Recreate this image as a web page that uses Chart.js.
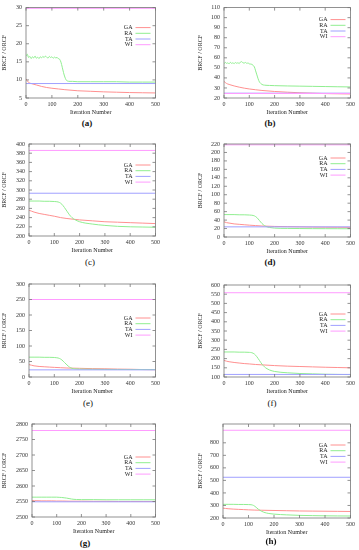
<!DOCTYPE html>
<html>
<head>
<meta charset="utf-8">
<script src="https://cdn.jsdelivr.net/npm/chart.js@4.4.0/dist/chart.umd.min.js"></script>
<style>
html, body { margin: 0; padding: 0; background: #fff; }
#fig { position: relative; width: 359px; height: 550px; overflow: hidden; }
#fig canvas { position: absolute; }
.cap { position: absolute; font-family: "Liberation Serif", "DejaVu Serif", serif; font-size: 9px; line-height: 9px; transform: translate(-50%, -50%); color: #111; }
</style>
</head>
<body>
<div id="fig"></div>
<script>
// iteration grids (x values)
var X_SMOOTH = [0, 10, 20, 40, 60, 80, 100, 125, 150, 200, 250, 300, 350, 400, 450, 500];
var X_DROP = [0, 20, 40, 60, 80, 100, 110, 120, 130, 140, 150, 160, 170, 180, 200, 250, 300, 350, 400, 450, 500];
var X_NOISY = [0, 5, 10, 15, 20, 25, 30, 35, 40, 45, 50, 55, 60, 65, 70, 75, 80, 85, 90, 95, 100,
               105, 110, 115, 120, 125, 130, 135, 140, 145, 150, 155, 160, 170, 180, 200, 250, 300, 350, 400, 450, 500];
var X_FLAT = [0, 500];

var seriesNames = ['GA', 'RA', 'TA', 'WI'];

// (a)
var gaA = [10.3, 9.3, 9.0, 8.6, 8.2, 7.9, 7.7, 7.5, 7.3, 7.0, 6.85, 6.7, 6.6, 6.5, 6.45, 6.4];
var raA = [16.6, 17.1, 16.2, 16.5, 15.9, 16.4, 16.1, 16.6, 16.0, 16.3, 15.9, 16.4, 16.1, 16.5, 16.2, 16.6, 16.3, 16.0, 16.5, 16.2, 16.4,
           16.0, 16.3, 16.1, 16.2, 15.9, 15.7, 14.9, 13.5, 12.0, 10.8, 10.0, 9.7, 9.6, 9.6, 9.5, 9.5, 9.5, 9.5, 9.4, 9.4, 9.4];
var taA = [9.0, 9.0];
var wiA = [29.8, 29.8];

// (b)
var gaB = [36.5, 34.5, 33.5, 32.0, 30.8, 29.8, 29.0, 28.2, 27.5, 26.5, 25.8, 25.2, 24.8, 24.4, 24.2, 24.0];
var raB = [54.0, 55.5, 54.5, 55.0, 54.0, 55.5, 54.5, 55.0, 54.2, 55.3, 54.6, 55.1, 54.3, 55.8, 56.2, 55.0, 54.8, 55.4, 54.5, 54.9, 54.0,
           53.8, 53.5, 52.5, 51.0, 47.0, 43.0, 39.0, 36.0, 34.5, 33.5, 33.0, 32.8, 32.6, 32.5, 32.3, 32.0, 31.8, 31.6, 31.4, 31.2, 31.0];
var taB = [24.8, 24.8];
var wiB = [24.5, 24.5];

// (c)
var gaC = [256, 254, 252, 249, 247, 245, 243, 240, 238, 235, 233, 231, 230, 229, 228, 227];
var raC = [276, 276, 276, 275.5, 275.5, 275, 274.5, 273, 269, 262, 254, 246, 240, 236, 231, 226, 223, 221, 220, 219.5, 219];
var taC = [293, 293];
var wiC = [386, 386];

// (d)
var gaD = [36, 34, 33, 31, 30, 29, 28, 27, 26, 25, 24.5, 24, 23.5, 23.2, 23, 22.8];
var raD = [53, 53, 53, 52.5, 52.5, 52, 51.5, 50, 46, 39, 32, 27, 24, 22.5, 21, 20.3, 20, 19.8, 19.7, 19.6, 19.5];
var taD = [24, 24];
var wiD = [218, 218];

// (e)
var gaE = [40, 38, 36, 34, 33, 32, 31, 30, 29, 28, 27, 26.5, 25.5, 25, 24, 23.5];
var raE = [64, 64, 64, 63.5, 63.5, 63, 62, 60, 55, 47, 39, 32, 28, 26.5, 25.5, 25, 24.5, 24.3, 24.2, 24.1, 24];
var taE = [23, 23];
var wiE = [250, 250];

// (f)
var gaF = [190, 186, 183, 179, 176, 173, 171, 168, 166, 162, 159, 157, 155, 153, 151.5, 150];
var raF = [236, 236, 236, 235, 235, 234, 232, 225, 210, 190, 170, 155, 145, 138, 130, 123, 119, 117, 115, 114, 113];
var taF = [114, 114];
var wiF = [558, 558];

// (g)
var gaG = [2553, 2552.5, 2552.5, 2552, 2552, 2552, 2551.5, 2551.5, 2551, 2551, 2550.5, 2550.5, 2550, 2550, 2550, 2550];
var raG = [2564, 2564, 2564, 2564, 2564, 2564, 2563.5, 2563, 2562, 2561, 2559.5, 2558, 2557, 2556.5, 2556, 2556, 2555.5, 2555.5, 2555.5, 2555.5, 2555.5];
var taG = [2549, 2549];
var wiG = [2779, 2779];

// (h)
var gaH = [279, 276, 274, 271, 269, 267, 265, 263, 262, 260, 258, 256, 255, 254, 253, 252];
var raH = [309, 309, 309, 308, 308, 307, 306, 300, 285, 268, 255, 246, 240, 236, 231, 225, 221, 219, 217.5, 216.5, 216];
var taH = [525, 525];
var wiH = [900, 900];

var colors = ['#ff9090', '#90ee90', '#a0a0ff', '#ff9cff'];
var FONT = '"Liberation Serif", "DejaVu Serif", serif';

// layout of the 8 panels (page pixels)
var panels = [
  {cap: '(a)', bold: true,  ga: gaA, ra: raA, raX: X_NOISY, ta: taA, wi: wiA, yMin: 5,    yMax: 30,   yStep: 5,   left: 0,   top: 0,   plotL: 26,  plotR: 157, plotT: 6,   plotB: 96,  legTop: 20, capX: 87,  capY: 123},
  {cap: '(b)', bold: true,  ga: gaB, ra: raB, raX: X_NOISY, ta: taB, wi: wiB, yMin: 20,   yMax: 110,  yStep: 10,  left: 196, top: 0,   plotL: 224, plotR: 352, plotT: 5,   plotB: 96,  legTop: 12, capX: 270, capY: 123},
  {cap: '(c)', bold: false, ga: gaC, ra: raC, raX: X_DROP,  ta: taC, wi: wiC, yMin: 200,  yMax: 400,  yStep: 20,  left: 0,   top: 135, plotL: 29,  plotR: 157, plotT: 144, plotB: 234, legTop: 21, capX: 90,  capY: 262},
  {cap: '(d)', bold: true,  ga: gaD, ra: raD, raX: X_DROP,  ta: taD, wi: wiD, yMin: 0,    yMax: 220,  yStep: 20,  left: 196, top: 135, plotL: 224, plotR: 352, plotT: 144, plotB: 235, legTop: 14, capX: 270, capY: 262},
  {cap: '(e)', bold: false, ga: gaE, ra: raE, raX: X_DROP,  ta: taE, wi: wiE, yMin: 0,    yMax: 300,  yStep: 50,  left: 0,   top: 270, plotL: 29,  plotR: 157, plotT: 284, plotB: 375, legTop: 34, capX: 88,  capY: 403},
  {cap: '(f)', bold: false, ga: gaF, ra: raF, raX: X_DROP,  ta: taF, wi: wiF, yMin: 100,  yMax: 600,  yStep: 50,  left: 196, top: 270, plotL: 224, plotR: 352, plotT: 285, plotB: 375, legTop: 29, capX: 272, capY: 403},
  {cap: '(g)', bold: true,  ga: gaG, ra: raG, raX: X_DROP,  ta: taG, wi: wiG, yMin: 2500, yMax: 2800, yStep: 50,  left: 0,   top: 405, plotL: 32,  plotR: 157, plotT: 424, plotB: 515, legTop: 33, capX: 85,  capY: 543},
  {cap: '(h)', bold: true,  ga: gaH, ra: raH, raX: X_DROP,  ta: taH, wi: wiH, yMin: 200,  yMax: 950,  yStep: 100, left: 196, top: 405, plotL: 223, plotR: 352, plotT: 424, plotB: 516, legTop: 21, capX: 271, capY: 541}
];

function pairs(xs, ys) {
  return xs.map(function (x, i) { return {x: x, y: ys[i]}; });
}

// gnuplot-like box with inward ticks, and the key inside the plot
var gnuplotFrame = {
  id: 'gnuplotFrame',
  afterDatasetsDraw: function (chart, args, opts) {
    var ctx = chart.ctx, a = chart.chartArea;
    var xs = chart.scales.x, ys = chart.scales.y;
    ctx.save();
    ctx.strokeStyle = '#777';
    ctx.lineWidth = 0.8;
    ctx.strokeRect(a.left, a.top, a.right - a.left, a.bottom - a.top);
    ctx.beginPath();
    xs.ticks.forEach(function (t) {
      var px = xs.getPixelForValue(t.value);
      ctx.moveTo(px, a.bottom); ctx.lineTo(px, a.bottom - 3);
      ctx.moveTo(px, a.top); ctx.lineTo(px, a.top + 3);
    });
    ys.ticks.forEach(function (t) {
      var py = ys.getPixelForValue(t.value);
      ctx.moveTo(a.left, py); ctx.lineTo(a.left + 3, py);
      ctx.moveTo(a.right, py); ctx.lineTo(a.right - 3, py);
    });
    ctx.stroke();

    ctx.font = '6px ' + FONT;
    ctx.textAlign = 'right';
    ctx.textBaseline = 'middle';
    chart.data.datasets.forEach(function (ds, i) {
      var y = a.top + opts.top + i * 5.7;
      ctx.fillStyle = '#222';
      ctx.fillText(ds.label, a.right - 23, y);
      ctx.strokeStyle = ds.borderColor;
      ctx.lineWidth = 1;
      ctx.beginPath();
      ctx.moveTo(a.right - 20, y);
      ctx.lineTo(a.right - 5, y);
      ctx.stroke();
    });
    ctx.restore();
  }
};

var fig = document.getElementById('fig');

panels.forEach(function (p) {
  var padRight = 6;
  var axisH = 18;
  var cv = document.createElement('canvas');
  var w = p.plotR + padRight - p.left;
  var h = p.plotB - p.top + axisH + 2;
  cv.width = w; cv.height = h;
  cv.style.left = p.left + 'px';
  cv.style.top = p.top + 'px';
  cv.style.width = w + 'px';
  cv.style.height = h + 'px';
  fig.appendChild(cv);

  var cap = document.createElement('div');
  cap.className = 'cap';
  cap.textContent = p.cap;
  cap.style.left = p.capX + 'px';
  cap.style.top = p.capY + 'px';
  cap.style.fontWeight = p.bold ? 'bold' : 'normal';
  fig.appendChild(cap);

  var sets = [
    {data: pairs(X_SMOOTH, p.ga)},
    {data: pairs(p.raX, p.ra)},
    {data: pairs(X_FLAT, p.ta)},
    {data: pairs(X_FLAT, p.wi)}
  ].map(function (d, i) {
    return {
      label: seriesNames[i],
      data: d.data,
      borderColor: colors[i],
      borderWidth: 1,
      pointRadius: 0,
      fill: false,
      cubicInterpolationMode: 'monotone',
      order: 4 - i
    };
  });

  new Chart(cv.getContext('2d'), {
    type: 'line',
    data: {datasets: sets},
    plugins: [gnuplotFrame],
    options: {
      responsive: false,
      animation: false,
      devicePixelRatio: 1,
      layout: {padding: {left: 1, right: padRight, top: p.plotT - p.top, bottom: 0}},
      plugins: {
        legend: {display: false},
        tooltip: {enabled: false},
        gnuplotFrame: {top: p.legTop}
      },
      scales: {
        x: {
          type: 'linear', min: 0, max: 500,
          grid: {display: false, drawTicks: false},
          border: {display: false},
          ticks: {stepSize: 100, padding: 3, autoSkip: false, maxRotation: 0, color: '#333', font: {family: FONT, size: 6},
                  callback: function (v) { return String(v); }},
          title: {display: true, text: 'Iteration Number', color: '#222', padding: 0, font: {family: FONT, size: 6}},
          afterFit: function (s) { s.height = axisH; }
        },
        y: {
          type: 'linear', min: p.yMin, max: p.yMax,
          grid: {display: false, drawTicks: false},
          border: {display: false},
          ticks: {stepSize: p.yStep, padding: 4, autoSkip: false, color: '#333', font: {family: FONT, size: 6},
                  callback: function (v) { return String(v); }},
          afterBuildTicks: function (s) {
            s.ticks = s.ticks.filter(function (t) {
              var k = (t.value - p.yMin) / p.yStep;
              return Math.abs(k - Math.round(k)) < 1e-6;
            });
          },
          title: {display: true, text: 'BRCF / ORCF', color: '#222', padding: 0, font: {family: FONT, size: 6}},
          afterFit: function (s) { s.width = p.plotL - p.left - 1; }
        }
      }
    }
  });
});
</script>
</body>
</html>
